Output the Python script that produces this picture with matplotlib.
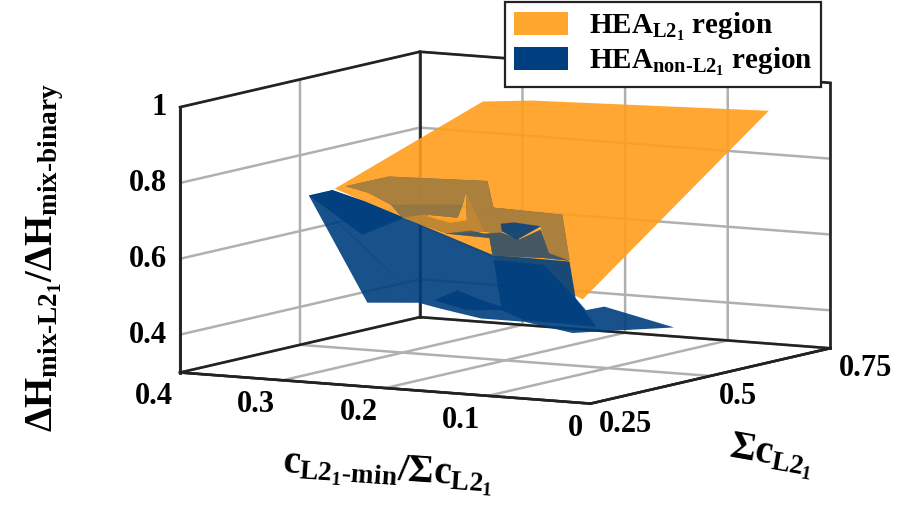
import matplotlib
matplotlib.use('Agg')
import matplotlib.pyplot as plt
from matplotlib.patches import Patch
from mpl_toolkits.mplot3d.art3d import Poly3DCollection

plt.rcParams['font.family'] = ['Liberation Serif', 'DejaVu Sans']
plt.rcParams['font.weight'] = 'bold'
plt.rcParams['mathtext.fontset'] = 'custom'
plt.rcParams['mathtext.rm'] = 'Liberation Serif:bold'
plt.rcParams['mathtext.it'] = 'Liberation Serif:bold'
plt.rcParams['mathtext.bf'] = 'Liberation Serif:bold'

ORANGE = '#FF9E1B'
BLUE = '#003F7F'
EDGE = '#222222'

# tick values
x_ticks = [0, 0.1, 0.2, 0.3, 0.4]
x_tick_labels = ['0', '0.1', '0.2', '0.3', '0.4']
y_ticks = [0.25, 0.5, 0.75]
y_tick_labels = ['0.25', '0.5', '0.75']
z_ticks = [0.4, 0.6, 0.8, 1.0]
z_tick_labels = ['0.4', '0.6', '0.8', '1']

# big HEA L21 sheet
orange_x = [0.296, 0.292, 0.268, 0.060, 0.101, 0.168]
orange_y = [0.35, 0.65, 0.70, 0.75, 0.45, 0.40]
orange_z = [0.777, 0.920, 0.913, 0.914, 0.496, 0.610]

# non-L21 sheet, all read at sum c = 0.45
Y_BLUE = 0.45
blue_x = [0.368, 0.311, 0.261, 0.240, 0.200, 0.158, 0.111, 0.092, 0.012,
          0.080, 0.098, 0.108, 0.114, 0.189, 0.236, 0.275, 0.314, 0.345]
blue_z = [0.715, 0.444, 0.454, 0.443, 0.425, 0.425, 0.405, 0.412, 0.440,
          0.481, 0.468, 0.497, 0.593, 0.595, 0.639, 0.675, 0.711, 0.734]

# overlapping folds of the blue sheet
fold1_x = [0.368, 0.345, 0.314, 0.275, 0.316]
fold1_z = [0.715, 0.734, 0.711, 0.675, 0.622]
fold2_x = [0.368, 0.262, 0.318]
fold2_z = [0.715, 0.466, 0.600]
fold3_x = [0.246, 0.223, 0.200, 0.180, 0.178, 0.214]
fold3_z = [0.464, 0.495, 0.474, 0.460, 0.452, 0.444]
fold4_x = [0.188, 0.139, 0.108, 0.088, 0.158, 0.180]
fold4_z = [0.582, 0.579, 0.497, 0.426, 0.429, 0.451]
fold5_x = [0.181, 0.168, 0.142, 0.165, 0.180]
fold5_z = [0.679, 0.685, 0.680, 0.640, 0.659]

# places where both sheets overlap
lap1_x = [0.332, 0.290, 0.194, 0.202, 0.215, 0.218, 0.288, 0.310]
lap1_z = [0.747, 0.781, 0.789, 0.747, 0.754, 0.722, 0.707, 0.734]
lap2_x = [0.288, 0.218, 0.223, 0.256, 0.277]
lap2_z = [0.707, 0.722, 0.686, 0.688, 0.675]
lap3_x = [0.277, 0.256, 0.230, 0.214, 0.215, 0.197, 0.233]
lap3_z = [0.675, 0.688, 0.671, 0.681, 0.754, 0.655, 0.642]
lap4_x = [0.188, 0.121, 0.114, 0.134, 0.142, 0.168, 0.181, 0.180, 0.188]
lap4_z = [0.720, 0.715, 0.597, 0.611, 0.680, 0.685, 0.679, 0.659, 0.653]
lap5_x = [0.215, 0.202, 0.194, 0.188, 0.188, 0.197]
lap5_z = [0.754, 0.747, 0.789, 0.720, 0.653, 0.655]
lap6_x = [0.235, 0.210, 0.197, 0.181, 0.163, 0.142, 0.134, 0.114, 0.139, 0.189, 0.192]
lap6_z = [0.642, 0.655, 0.649, 0.656, 0.641, 0.671, 0.611, 0.595, 0.597, 0.593, 0.639]
sliver_x = [0.256, 0.214, 0.230]
sliver_z = [0.685, 0.681, 0.671]


def sheet(x, z):
    return [list(zip(x, [Y_BLUE] * len(x), z))]


def add_layer(ax, polys, color, alpha, order):
    col = Poly3DCollection(polys, facecolors=color, edgecolors='none', alpha=alpha)
    col.set_zorder(order)
    col.set_clip_on(False)
    ax.add_collection3d(col)


fig = plt.figure(figsize=(9.02, 5.15), dpi=100)
ax = fig.add_axes([0.0524, 0.0444, 1, 1], projection='3d', computed_zorder=False)
ax.set_proj_type('ortho')
ax.view_init(elev=7.6, azim=-60.2)
ax.set_box_aspect((1, 1.02, 0.566), zoom=1.37)
ax.set_xlim(0.4, 0)
ax.set_ylim(0.25, 0.75)
ax.set_zlim(0.3, 1.0)

ax.set_xticks(x_ticks)
ax.set_xticklabels(x_tick_labels, ha='right')
ax.set_yticks(y_ticks)
ax.set_yticklabels(y_tick_labels, ha='left')
ax.set_zticks(z_ticks)
ax.set_zticklabels(z_tick_labels, ha='right', va='center')
ax.tick_params(labelsize=22)
ax.tick_params(axis='x', pad=-2)
ax.tick_params(axis='y', pad=-4)
ax.tick_params(axis='z', pad=-4)
ax.zaxis.set_ticks_position('lower')

for axis in (ax.xaxis, ax.yaxis, ax.zaxis):
    axis.set_pane_color('white')
    axis.line.set_color(EDGE)
    axis.line.set_linewidth(1.8)
    axis._axinfo['grid'].update(color='#b0b0b0', linewidth=1.8)
    axis._axinfo['tick'].update(inward_factor=0, outward_factor=0)

# dark box outline over the grid lines at the limits
X0, X1 = ax.get_xlim()
Y0, Y1 = ax.get_ylim()
Z0, Z1 = ax.get_zlim()
outline = [([X0, X0], [Y0, Y0], [Z0, Z1]),
           ([X0, X0], [Y1, Y1], [Z0, Z1]),
           ([X1, X1], [Y1, Y1], [Z0, Z1]),
           ([X0, X0], [Y0, Y1], [Z1, Z1]),
           ([X0, X1], [Y1, Y1], [Z1, Z1]),
           ([X0, X0], [Y0, Y1], [Z0, Z0]),
           ([X0, X1], [Y1, Y1], [Z0, Z0]),
           ([X0, X1], [Y0, Y0], [Z0, Z0]),
           ([X1, X1], [Y0, Y1], [Z0, Z0])]
for xs, ys, zs in outline:
    ax.plot(xs, ys, zs, color=EDGE, linewidth=1.9, zorder=0, clip_on=False)

lap_all = [(lap1_x, lap1_z), (lap2_x, lap2_z), (lap3_x, lap3_z),
           (lap4_x, lap4_z), (lap5_x, lap5_z), (lap6_x, lap6_z)]
lap_polys = [sheet(x, z)[0] for x, z in lap_all]

add_layer(ax, [list(zip(orange_x, orange_y, orange_z))], ORANGE, 0.9, 1)
add_layer(ax, sheet(blue_x, blue_z), BLUE, 0.9, 2)
add_layer(ax, sheet(fold1_x, fold1_z) + sheet(fold2_x, fold2_z) + sheet(fold3_x, fold3_z), BLUE, 0.9, 3)
add_layer(ax, lap_polys, BLUE, 0.9, 4)
add_layer(ax, lap_polys, ORANGE, 0.64, 5)
add_layer(ax, sheet(lap3_x, lap3_z), ORANGE, 0.25, 6)
add_layer(ax, sheet(sliver_x, sliver_z), ORANGE, 0.95, 7)
add_layer(ax, sheet(lap2_x, lap2_z), BLUE, 0.12, 7)
add_layer(ax, sheet(lap6_x, lap6_z), BLUE, 0.6, 8)
add_layer(ax, sheet(fold4_x, fold4_z) + sheet(fold5_x, fold5_z), BLUE, 0.9, 9)

# axis titles
fig.text(0.05, 0.50, r'ΔH$_{\mathrm{mix\text{-}L2_1}}$/ΔH$_{\mathrm{mix\text{-}binary}}$',
         rotation=90, ha='center', va='center', fontsize=28)
fig.text(0.43, 0.085, r'c$_{\mathrm{L2_1\text{-}min}}$/Σc$_{\mathrm{L2_1}}$',
         rotation=-4, ha='center', va='center', fontsize=28)
fig.text(0.855, 0.115, r'Σc$_{\mathrm{L2_1}}$',
         rotation=-10, ha='center', va='center', fontsize=28)

handles = [Patch(facecolor='#FFA62F', edgecolor='none'),
           Patch(facecolor='#003F7F', edgecolor='none')]
labels = [r'HEA$_{\mathrm{L2_1}}$ region', r'HEA$_{\mathrm{non\text{-}L2_1}}$ region']
leg = fig.legend(handles, labels, loc='upper left', bbox_to_anchor=(0.56, 0.996),
                 bbox_transform=fig.transFigure, fontsize=21, frameon=True,
                 fancybox=False, framealpha=1, edgecolor=EDGE,
                 handlelength=1.85, handleheight=0.86, handletextpad=0.72,
                 labelspacing=0.1, borderpad=0.3, borderaxespad=0)
leg.get_frame().set_linewidth(1.6)

fig.savefig('out.png', dpi=100)
